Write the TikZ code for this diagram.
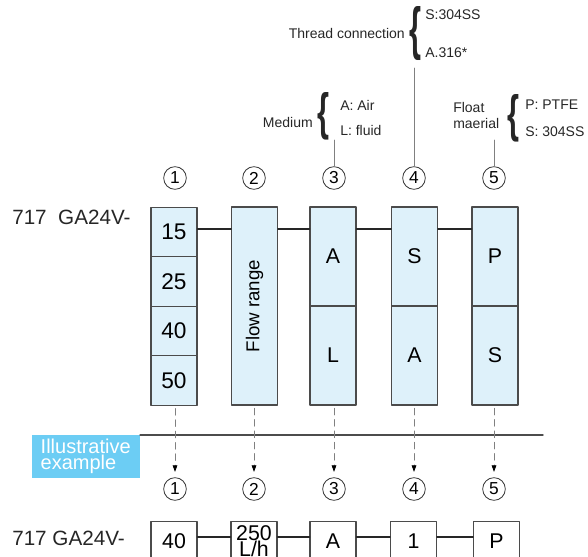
\documentclass[tikz,border=0pt]{standalone}
\usepackage{fontspec}
\setmainfont{Liberation Sans}
\usetikzlibrary{arrows.meta}
\definecolor{cellblue}{RGB}{222,241,250}
\definecolor{tagblue}{RGB}{108,205,244}
\definecolor{edge}{RGB}{75,75,75}
\newcommand{\optbrace}[1]{\resizebox{9pt}{#1}{\bfseries\{}}
\tikzset{
	cell/.style={draw=edge, fill=cellblue, line width=0.9pt, minimum width=34.5pt, inner sep=0pt, font=\fontsize{17}{17}\selectfont},
	bcell/.style={draw=edge, line width=0.9pt, minimum width=34.5pt, minimum height=30pt, anchor=north, inner sep=0pt, font=\fontsize{16}{16}\selectfont},
	circnum/.style={draw=black!80, circle, line width=0.6pt, minimum size=17pt, inner sep=0pt, font=\fontsize{13}{13}\selectfont},
	lbl/.style={font=\fontsize{10.5}{14}\selectfont, inner sep=0pt, text=black!85},
	bigbrace/.style={inner sep=0pt, text=black!85},
	lead/.style={draw=gray, line width=0.6pt},
	bus/.style={draw=black!85, line width=1.6pt},
	droparrow/.style={draw=gray, dashed, dash pattern=on 5pt off 3.5pt, line width=0.6pt, -{Triangle[length=5pt,width=3.5pt,black]}, shorten <=2pt, shorten >=4pt},
	model/.style={anchor=west, inner sep=0pt, font=\fontsize{15.5}{15.5}\selectfont, text=black!85}
}
\begin{document}
\begin{tikzpicture}[x=0.75pt, y=-0.75pt, line join=round, line cap=round]
	\useasboundingbox (0,0) rectangle (588,556);
	\clip (0,0) rectangle (588,556);
	% upper row
	\node[model] (top model) at (12,217.5) {717\ \ GA24V-};
	\node[cell, minimum height=37.1pt] (c1a) at (174,232) {15};
	\node[cell, minimum height=37.1pt] (c1b) at (174,281.5) {25};
	\node[cell, minimum height=37.1pt] (c1c) at (174,331) {40};
	\node[cell, minimum height=37.1pt] (c1d) at (174,380.5) {50};
	\node[cell, minimum height=148.5pt, font=\fontsize{14}{14}\selectfont] (c2) at (254.5,306) {\rotatebox{90}{Flow range}};
	\node[cell, minimum height=74.25pt, font=\fontsize{16}{16}\selectfont] (c3a) at (333,256.5) {A};
	\node[cell, minimum height=74.25pt, font=\fontsize{16}{16}\selectfont] (c3b) at (333,355.5) {L};
	\node[cell, minimum height=74.25pt, font=\fontsize{16}{16}\selectfont] (c4a) at (414.5,256.5) {S};
	\node[cell, minimum height=74.25pt, font=\fontsize{16}{16}\selectfont] (c4b) at (414.5,355.5) {A};
	\node[cell, minimum height=74.25pt, font=\fontsize{16}{16}\selectfont] (c5a) at (495,256.5) {P};
	\node[cell, minimum height=74.25pt, font=\fontsize{16}{16}\selectfont] (c5b) at (495,355.5) {S};
	\coordinate (bus) at (0,229);
	\foreach \a/\b in {c1a/c2, c2/c3a, c3a/c4a, c4a/c5a}
		\draw[bus] (\a.east |- bus) -- (\b.west |- bus);
	\foreach \i/\x in {1/175,2/254,3/334,4/414,5/494}
		\node[circnum] (n\i) at (\x,178) {\i};
	% option labels
	\node[lbl, anchor=east] (thread) at (405,33) {Thread connection};
	\node[bigbrace] (tbrace) at (415,34) {\optbrace{31.5pt}};
	\node[lbl, anchor=west] (thread s) at (425,15) {S:304SS};
	\node[lbl, anchor=west] (thread a) at (425,53) {A.316*};
	\node[lbl, anchor=east] (medium) at (313,122) {Medium};
	\node[bigbrace] (mbrace) at (323.5,116.5) {\optbrace{27.75pt}};
	\node[lbl, anchor=west] (medium a) at (340,105) {A: Air};
	\node[lbl, anchor=west] (medium l) at (340,130) {L: fluid};
	\node[lbl, anchor=west, align=left, font=\fontsize{10.5}{11.5}\selectfont] (float) at (453,115.5) {Float\\maerial};
	\node[bigbrace] (fbrace) at (513,118.5) {\optbrace{27.75pt}};
	\node[lbl, anchor=west] (float p) at (525,105) {P: PTFE};
	\node[lbl, anchor=west] (float s) at (525,132) {S: 304SS};
	\coordinate (medium end) at (334,140);
	\coordinate (thread end) at (414,68);
	\coordinate (float end) at (494,140);
	\draw[lead] (n3.north) -- (medium end);
	\draw[lead] (n4.north) -- (thread end);
	\draw[lead] (n5.north) -- (float end);
	% example
	\node[fill=tagblue, text=white, minimum width=81pt, minimum height=32.25pt, anchor=north east, align=left, inner sep=0pt, font=\fontsize{15}{10.5}\selectfont] (tag) at (140,435) {Illustrative\\example};
	\coordinate (rule end) at (543,435);
	\draw[black!70, line width=1pt] (tag.north east) -- (rule end);
	\foreach \i/\x in {1/175,2/254,3/334,4/414,5/494}
		\node[circnum] (m\i) at (\x,489) {\i};
	\foreach \i/\c in {1/c1d,2/c2,3/c3b,4/c4b,5/c5b}
		\draw[droparrow] (m\i.north |- \c.south) -- (m\i.north);
	% lower row
	\node[model] (bottom model) at (12,538) {717 GA24V-};
	\node[bcell] (b1) at (174,521) {40};
	\node[bcell, align=center, font=\fontsize{16}{12}\selectfont] (b2) at (254,521) {250\\L/h};
	\node[bcell] (b3) at (333,521) {A};
	\node[bcell] (b4) at (413.5,521) {1};
	\node[bcell] (b5) at (496.5,521) {P};
	\coordinate (bbus) at (0,537);
	\foreach \a/\b in {b1/b2, b2/b3, b3/b4, b4/b5}
		\draw[bus] (\a.east |- bbus) -- (\b.west |- bbus);
\end{tikzpicture}
\end{document}
